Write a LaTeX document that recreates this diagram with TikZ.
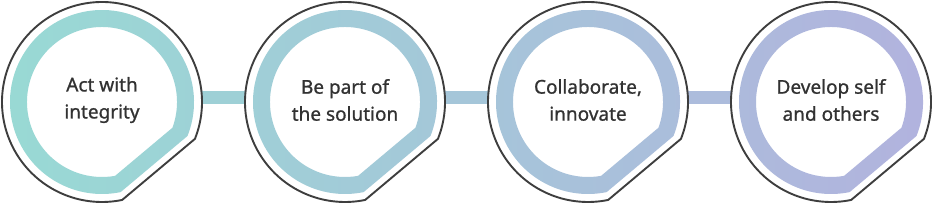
\documentclass[tikz,border=0pt]{standalone}
\usepackage{fontspec}
\setmainfont{Noto Sans}
\newfontfamily\mottofont{Noto Sans}[BoldFont={Noto Sans}, BoldFeatures={FakeBold=0.9}]
\usetikzlibrary{positioning}

\definecolor{ringA}{RGB}{152,218,212}
\definecolor{ringB}{RGB}{178,178,222}
\definecolor{rim}{RGB}{62,62,62}
\definecolor{mottotext}{RGB}{50,50,50}

\tikzset{
  bubble/.style={draw=rim, line width=1.9pt, fill=white},
  link/.style={line width=13pt},
  motto/.style={font=\mottofont\bfseries\fontsize{19}{27}\selectfont, text=mottotext, align=center}
}

\begin{document}
\begin{tikzpicture}[x=1pt, y=1pt]
\useasboundingbox (0,0) rectangle (933,207);

% centres of the four bubbles
\foreach \i in {0,...,3}
  \coordinate (c\i) at ({102+243*\i},105);

% links between bubbles
\foreach \i/\j in {0/1,1/2,2/3} {
  \pgfmathsetmacro{\pos}{(102+243*\i+121.5)/9.33}
  \draw[link, color=ringB!\pos!ringA] ([yshift=4.5]c\i) -- ([yshift=4.5]c\j);
}

% bubbles with a cut corner and a coloured ring
\foreach \i in {0,...,3} {
  \pgfmathsetmacro{\aOut}{acos(88/100)}
  \pgfmathsetmacro{\aMid}{acos(81/92)}
  \pgfmathsetmacro{\aIn}{acos(65/75)}
  \pgfmathsetmacro{\posL}{(102+243*\i-92)/9.33}
  \pgfmathsetmacro{\posR}{(102+243*\i+92)/9.33}
  \begin{scope}[shift={(c\i)}]
    \draw[bubble] (-50+\aOut:100) arc[start angle=-50+\aOut, end angle=310-\aOut, radius=100] -- cycle;
    \path[even odd rule, left color=ringB!\posL!ringA, right color=ringB!\posR!ringA]
      (-50+\aMid:92) arc[start angle=-50+\aMid, end angle=310-\aMid, radius=92] -- cycle
      (-50+\aIn:75) arc[start angle=-50+\aIn, end angle=310-\aIn, radius=75] -- cycle;
  \end{scope}
}

% texts
\node[motto] (act) at ([yshift=2]c0) {Act with\\integrity};
\node[motto] (part) at ([yshift=2]c1) {Be part of\\the solution};
\node[motto] (collab) at ([yshift=2]c2) {Collaborate,\\innovate};
\node[motto] (develop) at ([yshift=2]c3) {Develop self\\and others};
\end{tikzpicture}
\end{document}
